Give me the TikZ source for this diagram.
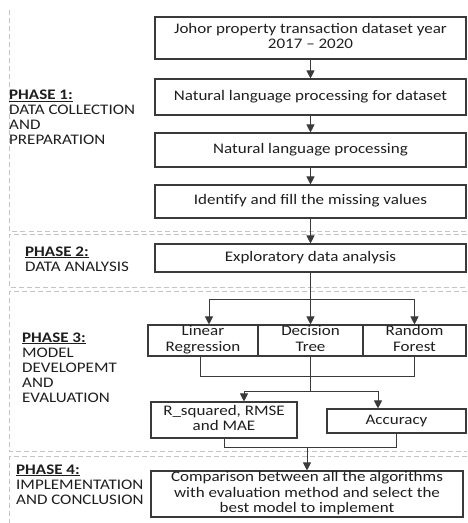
\documentclass[tikz,border=0pt]{standalone}
\usepackage{fontspec}
\setmainfont{Carlito}
\usepackage{graphicx}
\usetikzlibrary{arrows.meta}
\newcommand{\sqc}[1]{\scalebox{1}[0.86]{\begin{tabular}{@{}c@{}}#1\end{tabular}}}
\newcommand{\sql}[1]{\scalebox{1}[0.86]{\begin{tabular}[t]{@{}l@{}}#1\end{tabular}}}
\newcommand{\phz}[1]{\underline{\textbf{#1}}}
\definecolor{framegray}{HTML}{C4C4C4}
\definecolor{boxgray}{HTML}{3A3A3A}
\definecolor{txtgray}{HTML}{1E1E1E}
\begin{document}
\begin{tikzpicture}[x=1pt,y=-1pt,
  every node/.style={font=\fontsize{17}{17.5}\selectfont, text=txtgray},
  stepbox/.style={draw=boxgray, line width=1.1pt, inner sep=0pt, rectangle},
  frame/.style={draw=framegray, line width=1pt, dash pattern=on 5pt off 3pt},
  conn/.style={draw=boxgray, line width=0.9pt},
  arr/.style={conn, -{Triangle[length=8pt,width=8pt]}},
  lbl/.style={anchor=base west, inner sep=0pt, align=left}]
\useasboundingbox (0,0) rectangle (467,523);
% phase frames
\draw[frame] (9.5,10) -- (9.5,231) -- (467,231);
\draw[frame] (467,234.5) -- (9.5,234.5) -- (9.5,287) -- (467,287);
\draw[frame] (467,291) -- (9.5,291) -- (9.5,451) -- (467,451);
\draw[frame] (467,456) -- (9.5,456) -- (9.5,523);
% phase labels
\node[lbl] (p1) at (9,99.5) {\sql{\phz{PHASE 1:}\\DATA COLLECTION\\AND\\PREPARATION}};
\node[lbl] (p2) at (25,256) {\sql{\phz{PHASE 2:}\\DATA ANALYSIS}};
\node[lbl] (p3) at (22,342) {\sql{\phz{PHASE 3:}\\MODEL\\DEVELOPEMT\\AND\\EVALUATION}};
\node[lbl] (p4) at (16,474) {\sql{\phz{PHASE 4:}\\IMPLEMENTATION\\AND CONCLUSION}};
% boxes
\node[stepbox, minimum width=311pt, minimum height=42pt] (b1) at (310.5,38) {\sqc{Johor property transaction dataset year\\2017 – 2020}};
\node[stepbox, minimum width=311pt, minimum height=36pt] (b2) at (310.5,97) {\sqc{Natural language processing for dataset}};
\node[stepbox, minimum width=311pt, minimum height=34pt] (b3) at (310.5,150) {\sqc{Natural language processing}};
\node[stepbox, minimum width=311pt, minimum height=33pt] (b4) at (310.5,201.5) {\sqc{Identify and fill the missing values}};
\node[stepbox, minimum width=311pt, minimum height=28pt] (b5) at (310.5,258) {\sqc{Exploratory data analysis}};
\node[stepbox, minimum width=110pt, minimum height=31pt] (LR) at (203,340.5) {\sqc{Linear\\Regression}};
\node[stepbox, minimum width=105pt, minimum height=31pt] (DT) at (310.5,340.5) {\sqc{Decision\\Tree}};
\node[stepbox, minimum width=103pt, minimum height=31pt] (RF) at (414.5,340.5) {\sqc{Random\\Forest}};
\node[stepbox, minimum width=146pt, minimum height=36pt] (RS) at (224,420) {\sqc{R\_squared, RMSE\\and MAE}};
\node[stepbox, minimum width=139pt, minimum height=24pt] (AC) at (396.5,421) {\sqc{Accuracy}};
\node[stepbox, minimum width=312pt, minimum height=46pt] (FN) at (307,494) {\sqc{Comparison between all the algorithms\\with evaluation method and select the\\best model to implement}};
% connectors
\draw[arr] (b1.south) -- (b2.north);
\draw[arr] (b2.south) -- (b3.north);
\draw[arr] (b3.south) -- (b4.north);
\draw[arr] (b4.south) -- (b5.north);
\draw[arr] (b5.south) -- (DT.north);
\coordinate (j1) at (310.5,299);
\draw[arr] (j1) -| ([xshift=6pt]LR.north);
\draw[arr] (j1) -| (RF.north);
\draw[conn] ([xshift=-3pt]LR.south) -- ++(0,20) -| (RF.south);
\draw[conn] (DT.south) -- ++(0,34.5) coordinate (j3);
\draw[arr] (j3) -| ([xshift=20pt]RS.north);
\draw[arr] (j3) -| ([xshift=-18.5pt]AC.north);
\draw[conn] (RS.south) -- ++(0,9) -| (AC.south);
\coordinate (j4) at (307,447);
\draw[arr] (j4) -- (FN.north);
\end{tikzpicture}
\end{document}
